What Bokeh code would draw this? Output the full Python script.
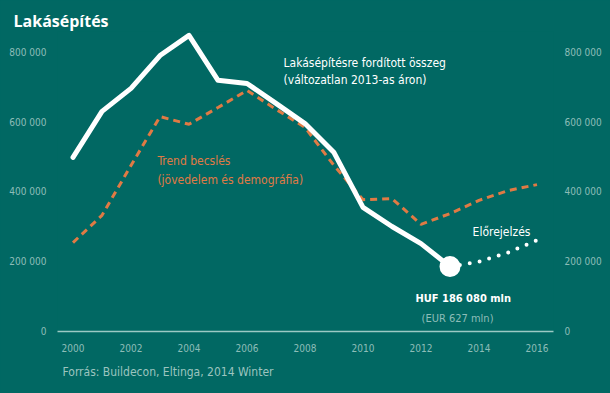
from bokeh.plotting import figure
from bokeh.models import Label, FixedTicker, LinearAxis, Range1d, Title
from bokeh.embed import file_html
from bokeh.resources import INLINE

# ---- data ----
years_actual = [2000, 2001, 2002, 2003, 2004, 2005, 2006, 2007, 2008, 2009, 2010, 2011, 2012, 2013]
actual = [499000, 631000, 697000, 791000, 849000, 720000, 711000, 654000, 596000, 513000, 356000, 301000, 252000, 186080]

years_trend = [2000, 2001, 2002, 2003, 2004, 2005, 2006, 2007, 2008, 2009, 2010, 2011, 2012, 2013, 2014, 2015, 2016]
trend = [255000, 333000, 476000, 616000, 594000, 642000, 691000, 637000, 585000, 476000, 378000, 381000, 307000, 338000, 376000, 404000, 421000]

years_forecast = [2013, 2014, 2015, 2016]
forecast = [186080, 200000, 226000, 262000]

x_ticks = [2000, 2002, 2004, 2006, 2008, 2010, 2012, 2014, 2016]
y_ticks = [0, 200000, 400000, 600000, 800000]
y_tick_labels = ["0", "200 000", "400 000", "600 000", "800 000"]

BG = "#016863"
WHITE = "#ffffff"
ORANGE = "#e07a44"
TICK = "#8dbdb8"
FONT = "DejaVu Sans Condensed"

p = figure(width=610, height=393, output_backend="svg", toolbar_location=None,
           x_range=Range1d(1999.4655, 2016.569), y_range=Range1d(0, 860000),
           min_border_left=57, min_border_right=57, min_border_top=31, min_border_bottom=62,
           background_fill_color=BG, border_fill_color=BG, outline_line_color=None)
p.outline_line_color = None
p.styles = {"background-color": BG}
p.grid.visible = False

p.title.text = "Lakásépítés"
p.title.text_color = WHITE
p.title.text_font = "Open Sans"
p.title.text_font_size = "16px"
p.title.text_font_style = "bold"
p.title.align = "left"
p.title.offset = -44
p.title.standoff = 0

overrides = {t: l for t, l in zip(y_ticks, y_tick_labels)}

def style_y(ax):
    ax.ticker = FixedTicker(ticks=y_ticks)
    ax.major_label_overrides = overrides
    ax.axis_line_color = None
    ax.major_tick_line_color = None
    ax.minor_tick_line_color = None
    ax.major_label_text_color = TICK
    ax.major_label_text_font = FONT
    ax.major_label_text_font_size = "10px"
    ax.major_label_standoff = 5

style_y(p.yaxis[0])
ry = LinearAxis()
style_y(ry)
p.add_layout(ry, "right")

xa = p.xaxis[0]
xa.ticker = FixedTicker(ticks=x_ticks)
xa.axis_line_color = "#9cc9c4"
xa.axis_line_width = 1.5
xa.major_tick_line_color = None
xa.minor_tick_line_color = None
xa.major_label_text_color = TICK
xa.major_label_text_font = FONT
xa.major_label_text_font_size = "10px"
xa.major_label_standoff = 6

foot = Title(text="Forrás: Buildecon, Eltinga, 2014 Winter", align="left", offset=5,
             text_color="#9cc4bf", text_font=FONT, text_font_size="12px",
             text_font_style="normal", standoff=17)
p.add_layout(foot, "below")

p.line(years_trend, trend, line_color=ORANGE, line_width=3, line_dash="7 5")
p.line(years_actual, actual, line_color=WHITE, line_width=5, line_join="round", line_cap="round")
p.line(years_forecast, forecast, line_color=WHITE, line_width=4, line_dash="0 10", line_cap="round")
p.scatter(years_forecast[:1], forecast[:1], size=21, fill_color=WHITE, line_color=None)

def lab(x, y, text, color, size, style="normal", font=FONT):
    p.add_layout(Label(x=x, y=y, text=text, text_color=color, text_font=font,
                       text_font_size=size, text_font_style=style, text_baseline="middle",
                       text_align="left"))

lab(2007.26, 771000, "Lakásépítésre fordított összeg", WHITE, "12px")
lab(2007.26, 720000, "(változatlan 2013-as áron)", WHITE, "12px")
lab(2002.91, 490000, "Trend becslés", ORANGE, "12px")
lab(2002.91, 433000, "(jövedelem és demográfia)", ORANGE, "12px")
lab(2013.78, 284000, "Előrejelzés", WHITE, "12px")
lab(2011.81, 94600, "HUF 186 080 mln", WHITE, "11px", "bold")
lab(2012.02, 37000, "(EUR 627 mln)", TICK, "11px")

open("out.html", "w").write(file_html(p, INLINE))
